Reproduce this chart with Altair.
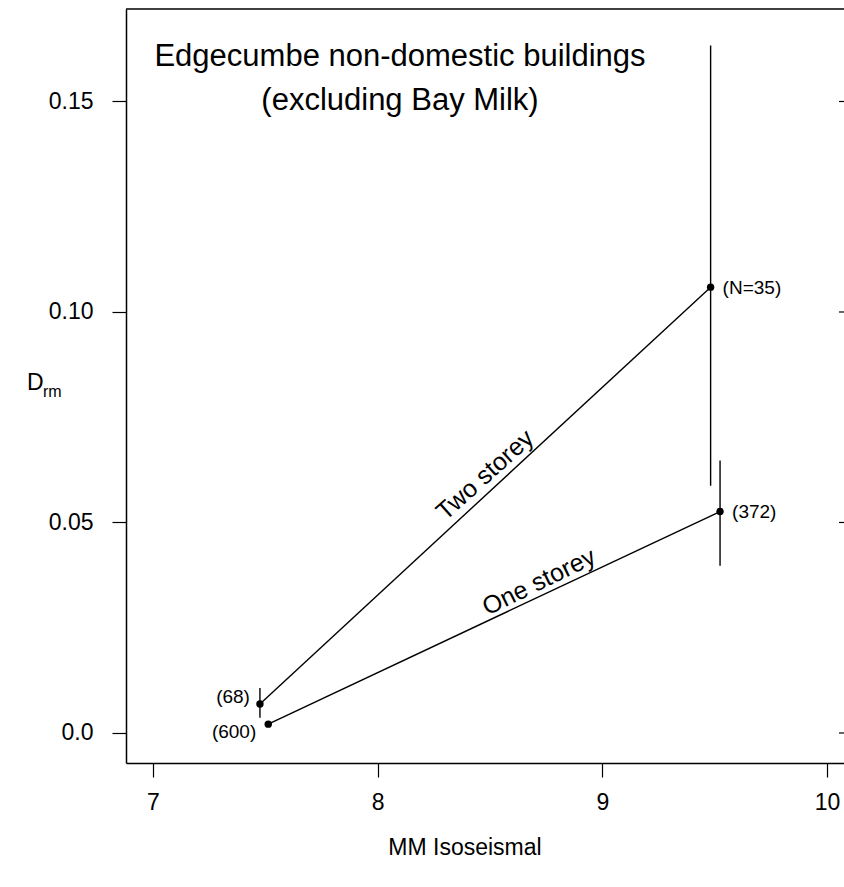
import altair as alt
import pandas as pd

# Data
series = ["Two storey", "Two storey", "One storey", "One storey"]
mm = [7.476, 9.482, 7.513, 9.524]
drm = [0.0069, 0.1059, 0.0021, 0.0526]
drm_lo = [0.0036, 0.0587, 0.0014, 0.0397]
drm_hi = [0.0107, 0.1633, 0.0028, 0.0647]
counts = ["(68)", "(N=35)", "(600)", "(372)"]
x_ticks = [7, 8, 9, 10]
y_ticks = [0.0, 0.05, 0.10, 0.15]
line_labels = ["Two storey", "One storey"]
title_lines = ["Edgecumbe non-domestic buildings", "(excluding Bay Milk)"]

df = pd.DataFrame({"series": series, "mm": mm, "drm": drm,
                   "lo": drm_lo, "hi": drm_hi, "n": counts})
ticks_df = pd.DataFrame({"t": y_ticks})

FONT = "Liberation Sans"
W, H = 718, 754
xscale = alt.Scale(domain=[6.8798, 10.0757], nice=False, zero=False)
yscale = alt.Scale(domain=[-0.00713, 0.17197], nice=False, zero=False)

base = alt.Chart(df)

x_enc = alt.X("mm:Q", scale=xscale,
              axis=alt.Axis(values=x_ticks, title=None, grid=False, tickSize=14,
                            format="d",
                            labelFontSize=23, labelPadding=14, labelFont=FONT,
                            domainColor="black", tickColor="black", labelColor="black",
                            domainWidth=1.5, tickWidth=1.2, labelFlush=False,
                            labelOverlap=False))
y_enc = alt.Y("drm:Q", scale=yscale,
              axis=alt.Axis(values=y_ticks, title=None, grid=False, tickSize=14,
                            labelFontSize=23, labelPadding=19, labelFont=FONT,
                            labelExpr="datum.value == 0 ? '0.0' : format(datum.value, '.2f')",
                            domainColor="black", tickColor="black", labelColor="black",
                            domainWidth=1.5, tickWidth=1.2, labelFlush=False,
                            labelOverlap=False))

lines = base.mark_line(color="black", strokeWidth=1.4).encode(
    x=x_enc, y=y_enc, detail="series:N")
points = base.mark_point(filled=True, color="black", size=55, opacity=1).encode(
    x="mm:Q", y="drm:Q")
errs = base.mark_rule(color="black", strokeWidth=1.4).encode(
    x="mm:Q", y="lo:Q", y2="hi:Q")

def count_label(i, align, dx, dy):
    return alt.Chart(df.iloc[[i]]).mark_text(
        align=align, baseline="middle", dx=dx, dy=dy, fontSize=19, font=FONT,
        color="black").encode(x="mm:Q", y="drm:Q", text="n:N")

lab68 = count_label(0, "right", -10, -7)
lab35 = count_label(1, "left", 12, 1)
lab600 = count_label(2, "right", -12, 8)
lab372 = count_label(3, "left", 12, 0)

ll_df = pd.DataFrame({"label": line_labels, "x": [8.478, 8.718], "y": [0.0613, 0.0359]})
two_lab = alt.Chart(ll_df.iloc[[0]]).mark_text(
    angle=318, fontSize=25, font=FONT, color="black", align="center",
    baseline="middle").encode(x="x:Q", y="y:Q", text="label:N")
one_lab = alt.Chart(ll_df.iloc[[1]]).mark_text(
    angle=334, fontSize=25, font=FONT, color="black", align="center",
    baseline="middle").encode(x="x:Q", y="y:Q", text="label:N")

t1 = alt.Chart(pd.DataFrame({"t": [title_lines[0]]})).mark_text(
    fontSize=31, font=FONT, color="black", align="center", baseline="middle").encode(
    x=alt.value(274), y=alt.value(48), text="t:N")
t2 = alt.Chart(pd.DataFrame({"t": [title_lines[1]]})).mark_text(
    fontSize=31, font=FONT, color="black", align="center", baseline="middle").encode(
    x=alt.value(274), y=alt.value(92), text="t:N")

xtitle = alt.Chart(pd.DataFrame({"t": ["MM Isoseismal"]})).mark_text(
    fontSize=23, font=FONT, color="black", align="center", baseline="middle").encode(
    x=alt.value(339), y=alt.value(839), text="t:N")
ytitle_d = alt.Chart(pd.DataFrame({"t": ["D"]})).mark_text(
    fontSize=23, font=FONT, color="black", align="left", baseline="middle").encode(
    x=alt.value(-99), y=alt.value(374), text="t:N")
ytitle_rm = alt.Chart(pd.DataFrame({"t": ["rm"]})).mark_text(
    fontSize=16, font=FONT, color="black", align="left", baseline="middle").encode(
    x=alt.value(-83), y=alt.value(383), text="t:N")

top_border = alt.Chart(pd.DataFrame({"a": [0]})).mark_rule(
    color="black", strokeWidth=1.5).encode(
    x=alt.value(0), x2=alt.value(W), y=alt.value(0))
right_ticks = alt.Chart(ticks_df).mark_rule(color="black", strokeWidth=1.2).encode(
    y=alt.Y("t:Q", scale=yscale), x=alt.value(W - 5), x2=alt.value(W))

chart = alt.layer(
    lines, errs, points, lab68, lab35, lab600, lab372, two_lab, one_lab,
    t1, t2, xtitle, ytitle_d, ytitle_rm, top_border, right_ticks
).properties(
    width=W, height=H,
    autosize=alt.AutoSizeParams(type="none"),
    padding={"left": 126, "top": 9, "right": 0, "bottom": 124},
    background="white",
).configure_view(stroke=None)

chart.save("out.html", embed_options={"renderer": "svg", "actions": False})
